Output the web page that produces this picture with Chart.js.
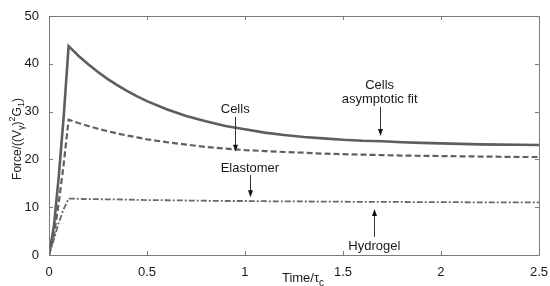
<!DOCTYPE html>
<html>
<head>
<meta charset="utf-8">
<script src="https://cdn.jsdelivr.net/npm/chart.js@4.4.0/dist/chart.umd.min.js"></script>
<style>
  html, body { margin: 0; padding: 0; background: #fff; }
  #wrap { width: 550px; height: 286px; }
</style>
</head>
<body>
<div id="wrap"><canvas id="forceChart" width="550" height="286"></canvas></div>
<script>
// Dane (czas w jednostkach tau_c)
const times = [0, 0.025, 0.05, 0.075, 0.1, 0.125, 0.15, 0.175, 0.2, 0.25, 0.3, 0.35, 0.4, 0.45, 0.5,
    0.6, 0.7, 0.8, 0.9, 1.0, 1.1, 1.2, 1.3, 1.4, 1.5, 1.6, 1.7, 1.8, 1.9, 2.0, 2.1, 2.2, 2.3, 2.4, 2.5];
const cellsForce = [0, 6, 16.5, 29, 43.7, 42.7, 41.7, 40.8, 39.9, 38.3, 36.8, 35.5, 34.3, 33.2, 32.2,
    30.5, 29.1, 28.0, 27.0, 26.3, 25.6, 25.1, 24.7, 24.4, 24.1, 23.9, 23.8, 23.6, 23.45, 23.35,
    23.25, 23.15, 23.1, 23.05, 23.0];
const elastomerForce = [0, 4, 11, 19, 28.3, 27.95, 27.6, 27.3, 27.0, 26.4, 25.9, 25.4, 25.0, 24.6, 24.2,
    23.6, 23.1, 22.6, 22.25, 21.95, 21.75, 21.55, 21.4, 21.2, 21.1, 21.0, 20.9, 20.8, 20.75, 20.7,
    20.65, 20.6, 20.55, 20.5, 20.5];
const hydrogelForce = [0, 3.3, 6.8, 9.6, 11.8, 11.78, 11.75, 11.72, 11.7, 11.67, 11.65, 11.62, 11.6, 11.55, 11.5,
    11.45, 11.4, 11.35, 11.3, 11.3, 11.25, 11.2, 11.2, 11.15, 11.15, 11.1, 11.1, 11.1, 11.05, 11.05,
    11.05, 11.0, 11.0, 11.0, 11.0];

const xTicks = [0, 0.5, 1, 1.5, 2, 2.5];
const yTicks = [0, 10, 20, 30, 40, 50];

// Adnotacje: tekst i strzałki (w jednostkach danych)
const annotations = [
    { lines: ['Cells'], x: 0.95, y: 30.5, from: 28.9, to: 21.6 },
    { lines: ['Cells', 'asymptotic fit'], x: 1.687, y: 35.4, from: 31.0, to: 24.9 },
    { lines: ['Elastomer'], x: 1.025, y: 18.2, from: 16.7, to: 12.1 },
    { lines: ['Hydrogel'], x: 1.66, y: 1.7, from: 3.8, to: 9.6 }
];

const FAMILY = '"Liberation Sans", Arial, sans-serif';
const FONT = '13px ' + FAMILY;
const TEXT = '#1a1a1a';
const FRAME = '#7a7a7a';

function points(ys) {
    return times.map((t, i) => ({ x: t, y: ys[i] }));
}

// Tekst z indeksami dolnymi / górnymi
function drawRich(ctx, parts, cx, cy) {
    let w = 0;
    parts.forEach(p => {
        ctx.font = p.size + 'px ' + FAMILY;
        p.w = ctx.measureText(p.t).width;
        w += p.w;
    });
    let x = cx - w / 2;
    ctx.textAlign = 'left';
    ctx.textBaseline = 'middle';
    parts.forEach(p => {
        ctx.font = p.size + 'px ' + FAMILY;
        ctx.fillText(p.t, x, cy + (p.dy || 0));
        x += p.w;
    });
}

function arrow(ctx, x, y1, y2) {
    const dir = y2 > y1 ? 1 : -1;
    ctx.strokeStyle = '#333';
    ctx.fillStyle = '#111';
    ctx.lineWidth = 1;
    ctx.beginPath();
    ctx.moveTo(x, y1);
    ctx.lineTo(x, y2 - dir * 4);
    ctx.stroke();
    ctx.beginPath();
    ctx.moveTo(x, y2);
    ctx.lineTo(x - 2.5, y2 - dir * 7);
    ctx.lineTo(x + 2.5, y2 - dir * 7);
    ctx.closePath();
    ctx.fill();
}

const framePlugin = {
    id: 'frame',
    afterDraw(chart) {
        const { ctx, chartArea: a, scales } = chart;
        ctx.save();
        // ramka i znaczniki do środka
        ctx.strokeStyle = FRAME;
        ctx.lineWidth = 1;
        ctx.strokeRect(a.left + 0.5, a.top + 0.5, a.right - a.left, a.bottom - a.top);
        ctx.beginPath();
        xTicks.forEach(v => {
            const px = Math.round(scales.x.getPixelForValue(v)) + 0.5;
            ctx.moveTo(px, a.bottom); ctx.lineTo(px, a.bottom - 4);
            ctx.moveTo(px, a.top); ctx.lineTo(px, a.top + 4);
        });
        yTicks.forEach(v => {
            const py = Math.round(scales.y.getPixelForValue(v)) + 0.5;
            ctx.moveTo(a.left, py); ctx.lineTo(a.left + 4, py);
            ctx.moveTo(a.right, py); ctx.lineTo(a.right - 4, py);
        });
        ctx.stroke();

        // adnotacje
        annotations.forEach(an => {
            const px = scales.x.getPixelForValue(an.x);
            const py = scales.y.getPixelForValue(an.y);
            an.lines.forEach((l, i) => {
                ctx.fillStyle = TEXT;
                ctx.font = FONT;
                ctx.textAlign = 'center';
                ctx.textBaseline = 'middle';
                ctx.fillText(l, px, py + i * 14);
            });
            arrow(ctx, Math.round(px) + 0.5, scales.y.getPixelForValue(an.from), scales.y.getPixelForValue(an.to));
        });

        // tytuły osi
        ctx.fillStyle = TEXT;
        drawRich(ctx, [
            { t: 'Time/', size: 13 }, { t: 'τ', size: 13 }, { t: 'c', size: 10, dy: 5 }
        ], 303, 278);

        ctx.translate(18, 139);
        ctx.rotate(-Math.PI / 2);
        drawRich(ctx, [
            { t: 'Force/((V', size: 12 }, { t: 'γ', size: 9, dy: 4 }, { t: ')', size: 12 },
            { t: '2', size: 9, dy: -5 }, { t: 'G', size: 12 }, { t: '1', size: 9, dy: 4 }, { t: ')', size: 12 }
        ], 0, 0);
        ctx.restore();
    }
};

new Chart(document.getElementById('forceChart'), {
    type: 'line',
    data: {
        datasets: [{
            label: 'Cells',
            data: points(cellsForce),
            borderColor: '#5e5e5e',
            borderWidth: 2.6
        }, {
            label: 'Elastomer',
            data: points(elastomerForce),
            borderColor: '#606060',
            borderWidth: 2.2,
            borderDash: [6, 3]
        }, {
            label: 'Hydrogel',
            data: points(hydrogelForce),
            borderColor: '#6a6a6a',
            borderWidth: 1.8,
            borderDash: [6, 2, 2, 2]
        }]
    },
    options: {
        responsive: false,
        animation: false,
        events: [],
        elements: {
            point: { radius: 0 },
            line: { tension: 0, fill: false }
        },
        layout: { padding: { top: 16, right: 7, left: 0, bottom: 0 } },
        plugins: {
            legend: { display: false },
            tooltip: { enabled: false }
        },
        scales: {
            x: {
                type: 'linear',
                min: 0,
                max: 2.5,
                grid: { display: false },
                border: { display: false },
                afterBuildTicks: s => { s.ticks = xTicks.map(v => ({ value: v })); },
                afterFit: s => { s.height = 31; },
                ticks: {
                    color: TEXT,
                    padding: 2,
                    maxRotation: 0,
                    font: { family: FAMILY, size: 13 },
                    callback: v => String(v)
                }
            },
            y: {
                min: 0,
                max: 50,
                grid: { display: false },
                border: { display: false },
                afterBuildTicks: s => { s.ticks = yTicks.map(v => ({ value: v })); },
                afterFit: s => { s.width = 49; },
                ticks: {
                    color: TEXT,
                    padding: 2,
                    font: { family: FAMILY, size: 13 },
                    callback: v => String(v)
                }
            }
        }
    },
    plugins: [framePlugin]
});
</script>
</body>
</html>
